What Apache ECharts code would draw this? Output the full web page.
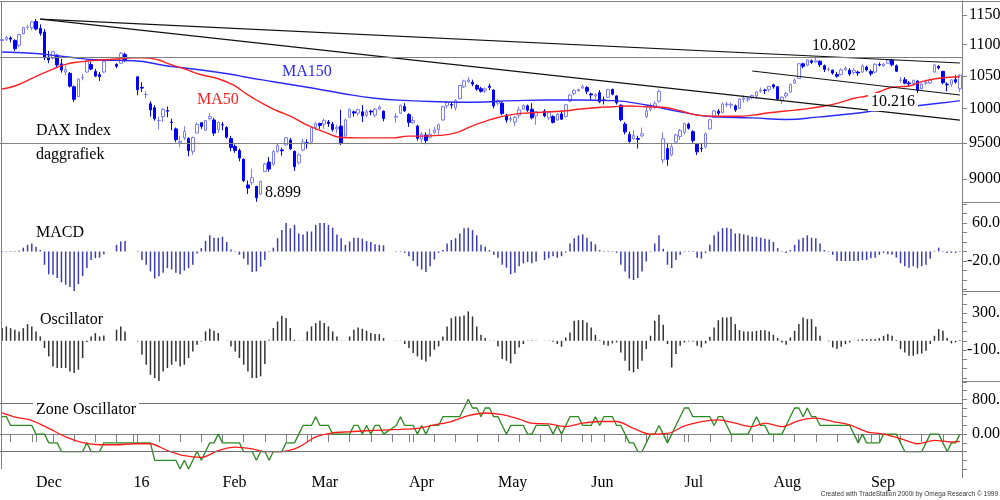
<!DOCTYPE html>
<html>
<head>
<meta charset="utf-8">
<title>DAX Index daggrafiek</title>
<script src="https://cdn.jsdelivr.net/npm/echarts@6.0.0/dist/echarts.min.js"></script>
<style>
  html, body { margin: 0; padding: 0; background: #fff; }
  #main { width: 1000px; height: 500px; }
</style>
</head>
<body>
<div id="main"></div>
<script>
// trading days (weekdays) shown on the chart
var startDate = '2015-11-19', endDate = '2016-09-30';
var monthLabels = ['16', 'Feb', 'Mar', 'Apr', 'May', 'Jun', 'Jul', 'Aug', 'Sep', 'Oct', 'Nov', 'Dec'];

// right hand scale labels
var priceTicks = [9000, 9500, 10000, 10500, 11000, 11500];
var macdTicks = [-80, -60, -40, -20, 0, 20, 40, 60, 80, 100];
var macdLabels = [60], macdNegLabels = [-20];
var oscTicks = [-400, -300, -200, -100, 0, 100, 200, 300, 400, 500];
var oscLabels = [300], oscNegLabels = [-100];
var zoneLabels = [800, 0];

// horizontal levels
var priceLevels = [10802, 9500];
var zoneLevels = [700, -400];

// daily candles [open, close, low, high], G = holiday
var G = ['-', '-', '-', '-'];
var candles = [
  [11070,11085,11020,11130],[11090,11119,11060,11150],[11110,11092,11040,11140],[11070,10934,10900,11090],
  [10990,11170,10960,11180],[11180,11285,11170,11300],[11290,11293,11250,11330],[11280,11382,11240,11400],
  [11390,11261,11240,11430],[11270,11190,11150,11340],[11210,10789,10750,11260],[10800,10752,10700,10900],
  [10780,10887,10760,10900],[10830,10673,10640,10840],[10690,10592,10550,10770],[10560,10598,10510,10660],
  [10540,10340,10320,10560],[10330,10139,10100,10350],[10180,10450,10170,10460],[10470,10470,10430,10530],
  [10560,10738,10550,10760],[10680,10608,10590,10720],[10570,10497,10480,10610],[10520,10488,10420,10560],
  [10560,10727,10540,10740],G,G,[10680,10653,10620,10700],
  [10700,10860,10690,10880],[10840,10743,10720,10870],G,G,
  [10485,10283,10200,10490],[10320,10310,10250,10400],[10210,10214,10150,10260],[10070,9979,9880,10110],
  [10010,9849,9820,10050],[9820,9825,9690,9880],[9880,9985,9800,10010],[9970,9960,9870,10030],
  [9800,9794,9680,9850],[9700,9545,9510,9720],[9500,9521,9440,9600],[9570,9664,9540,9740],
  [9560,9391,9310,9580],[9380,9574,9330,9590],[9640,9764,9640,9790],[9790,9736,9700,9800],
  [9680,9822,9670,9830],[9850,9880,9820,9930],[9830,9639,9600,9860],[9690,9798,9640,9810],
  [9760,9757,9680,9800],[9720,9581,9560,9740],[9560,9434,9380,9600],[9450,9393,9360,9480],
  [9390,9286,9240,9420],[9270,8979,8960,9280],[8920,8879,8800,8980],[8950,9017,8920,9140],
  [8900,8752,8699,8910],[8800,8967,8790,8980],[9100,9206,9100,9220],[9230,9135,9100,9300],
  [9200,9377,9180,9400],[9380,9463,9360,9490],[9400,9388,9320,9430],[9470,9573,9460,9580],
  [9540,9416,9400,9570],[9380,9167,9110,9390],[9220,9331,9200,9350],[9400,9513,9380,9560],
  [9500,9495,9420,9550],[9510,9717,9480,9730],[9720,9776,9680,9800],[9780,9751,9700,9790],
  [9770,9824,9700,9850],[9800,9778,9730,9830],[9770,9692,9660,9800],[9700,9723,9640,9760],
  [9740,9498,9470,9980],[9600,9831,9580,9850],[9870,9990,9860,10000],[9950,9933,9880,9970],
  [9930,9983,9890,10000],[9950,9892,9800,10050],[9900,9950,9870,9990],[9960,9948,9900,9980],
  [9900,9990,9870,10010],[9990,10022,9980,10050],[9960,9851,9810,9970],G,
  G,[9870,9887,9790,9930],[9930,10046,9920,10060],[10030,9966,9950,10080],
  [9910,9795,9730,9930],[9790,9822,9770,9880],[9740,9564,9530,9760],[9550,9624,9500,9650],
  [9610,9531,9480,9650],[9580,9622,9560,9700],[9650,9682,9620,9730],[9690,9761,9620,9780],
  [9830,10027,9820,10040],[10040,10094,10000,10110],[10060,10051,10000,10100],[10010,10120,9970,10140],
  [10150,10350,10140,10360],[10330,10421,10310,10440],[10410,10435,10390,10480],[10400,10373,10340,10440],
  [10350,10294,10270,10370],[10300,10260,10240,10330],[10270,10299,10230,10320],[10340,10321,10280,10380],
  [10280,10039,10000,10290],[10080,10123,10050,10140],[10080,9926,9900,10100],[9900,9829,9790,9920],
  [9840,9851,9800,9890],[9800,9870,9740,9890],[9900,9980,9860,10030],[9990,10045,9980,10060],
  [10040,9975,9950,10060],[9990,9862,9840,10080],[9890,9952,9760,9960],G,
  [9960,9891,9870,9990],[9860,9943,9830,9960],[9880,9795,9780,9900],[9830,9916,9820,9930],
  [9920,9842,9830,9960],[9880,10057,9870,10060],[10110,10205,10100,10220],[10230,10272,10200,10300],
  [10270,10287,10250,10300],[10310,10333,10300,10360],[10320,10263,10220,10340],[10220,10205,10130,10240],
  [10190,10208,10140,10230],[10240,10103,10080,10280],[10130,10121,10060,10180],[10170,10287,10160,10300],
  [10290,10217,10200,10300],[10190,10088,10060,10200],[10050,9834,9810,10060],[9770,9657,9620,9800],
  [9620,9520,9500,9660],[9560,9606,9540,9680],[9560,9550,9420,9600],[9600,9631,9580,9720],
  [9880,9962,9860,10020],[9990,10015,9960,10080],[10030,10071,9990,10110],[10110,10257,10090,10290],
  [9260,9557,9214,9650],[9420,9268,9180,9500],[9330,9448,9310,9480],[9510,9612,9490,9630],
  [9590,9680,9540,9700],[9650,9776,9620,9790],[9770,9709,9690,9790],[9660,9532,9500,9680],
  [9480,9373,9330,9500],[9420,9418,9370,9500],[9440,9629,9420,9650],[9700,9833,9690,9850],
  [9870,9964,9860,9980],[9960,9930,9900,9990],[9940,10068,9930,10090],[10060,10066,10020,10100],
  [10050,10063,10000,10090],[10040,9981,9950,10060],[10000,10142,9990,10150],[10140,10157,10090,10200],
  [10130,10147,10100,10170],[10160,10199,10140,10210],[10190,10248,10150,10260],[10260,10275,10240,10320],
  [10280,10274,10220,10300],[10290,10337,10250,10340],[10360,10330,10300,10380],[10330,10144,10120,10340],
  [10120,10171,10070,10180],[10190,10228,10160,10250],[10250,10367,10240,10380],[10390,10432,10380,10460],
  [10460,10692,10450,10700],[10690,10651,10620,10710],[10670,10753,10650,10760],[10740,10713,10690,10760],
  [10720,10740,10710,10802],[10730,10677,10640,10750],[10660,10603,10560,10680],[10600,10603,10570,10640],
  [10590,10544,10520,10600],[10520,10495,10470,10560],[10520,10593,10510,10620],[10600,10623,10580,10650],
  [10590,10530,10500,10620],[10550,10588,10520,10630],[10560,10544,10500,10580],[10560,10657,10550,10680],
  [10640,10593,10570,10660],[10570,10534,10500,10600],[10560,10684,10540,10700],[10680,10672,10650,10710],
  [10660,10688,10640,10700],[10700,10752,10690,10770],[10750,10675,10650,10770],[10660,10573,10560,10680],
  [10430,10432,10390,10480],[10440,10386,10370,10480],[10390,10378,10330,10420],[10380,10431,10340,10440],
  [10420,10276,10216,10430],[10300,10374,10290,10390],[10390,10393,10360,10440],[10390,10436,10370,10460],
  [10560,10674,10550,10680],[10650,10626,10600,10670],[10570,10394,10370,10580],[10370,10361,10260,10400],
  [10370,10438,10330,10450],[10440,10405,10380,10510],[10300,10511,10250,10530]
];

// moving averages, [day index, value]
var ma50 = [[0,10296],[3,10342],[7,10462],[11,10577],[15,10683],[19,10725],[23,10752],[27,10768],[31,10789],
  [33,10789],[37,10752],[39,10697],[43,10611],[47,10518],[51,10455],[55,10342],[57,10250],[60,10128],
  [64,9990],[68,9886],[72,9754],[76,9657],[80,9577],[84,9571],[88,9571],[92,9571],[96,9596],[99,9596],
  [103,9606],[107,9643],[111,9745],[114,9810],[117,9867],[121,9916],[125,9936],[129,9951],[133,9966],
  [136,9988],[140,10012],[144,10026],[148,10037],[152,10026],[156,10018],[160,9966],[164,9901],[168,9886],
  [174,9886],[177,9901],[181,9936],[185,9962],[189,9988],[193,10026],[197,10078],[201,10154],[204,10189],
  [207,10254],[210,10322],[214,10343],[217,10409],[221,10462],[226,10487]];
var ma150 = [[0,10881],[7,10861],[15,10805],[23,10751],[31,10741],[39,10656],[47,10593],[55,10514],[57,10487],
  [64,10409],[72,10322],[80,10231],[88,10154],[96,10118],[103,10102],[111,10093],[121,10118],[129,10128],
  [136,10128],[144,10118],[152,10052],[160,9951],[168,9876],[177,9861],[185,9838],[193,9876],[201,9926],
  [207,9977],[215,10037],[221,10078],[226,10118]];

// trend lines, [day index, price] end points
var trendLines = [
  [[9, 11430], [226, 10704]],
  [[9, 11430], [226, 9829]],
  [[177, 10577], [226, 10204]]
];

var macd = [
  1,1,1,1,2,8,14,17,10,3,
  -28,-48,-49,-56,-65,-70,-75,-85,-69,-52,
  -35,-18,-14,-13,-6,'-','-',14,21,22,
  '-','-',-1,-18,-28,-42,-57,-52,-45,-35,
  -38,-45,-48,-40,-35,-28,-4,7,22,34,
  29,29,31,20,4,-1,-7,-15,-28,-43,
  -42,-32,-18,-1,8,28,45,60,49,56,
  38,36,42,42,56,60,60,56,50,36,
  28,14,21,29,29,27,22,20,15,14,
  13,'-','-',1,-1,-3,-10,-20,-31,-38,
  -43,-31,-17,-3,3,17,24,28,38,49,
  50,45,34,14,10,3,-7,-13,-28,-34,
  -48,-45,-31,-25,-22,-25,-21,'-',-18,-14,
  -10,-13,-10,-2,17,28,34,36,29,21,
  15,3,1,1,1,-3,-28,-42,-57,-60,
  -56,-42,-21,-1,17,34,6,-28,-35,-18,
  -7,-1,1,-1,-13,-15,-3,14,34,42,
  49,50,48,38,38,36,34,31,31,29,
  27,25,20,7,-1,-3,3,14,25,29,
  34,29,28,17,3,-1,-7,-20,-20,-20,
  -20,-20,-20,-18,-18,-14,-13,-7,-3,-6,
  -7,-13,-25,-31,-34,-31,-35,-31,-28,-15,
  -1,8,1,-3,-3,-3,-1
];

var osc = [
  137,155,137,119,101,137,180,155,101,47,
  -79,-169,-277,-295,-295,-295,-331,-349,-313,-187,
  -14,47,83,47,58,'-','-',119,155,101,
  '-','-',-7,-151,-259,-367,-403,-439,-331,-295,
  -259,-223,-277,-259,-187,-115,-43,-7,101,130,
  108,83,0,-3,-61,-115,-187,-259,-331,-403,
  -403,-385,-250,11,137,209,270,245,137,11,
  3,-3,101,155,191,216,191,155,101,47,
  3,-3,47,119,144,130,108,83,72,72,
  29,'-','-',3,-3,-36,-79,-133,-169,-205,
  -223,-169,-97,-61,47,155,245,263,263,274,
  317,263,155,65,29,3,-3,-61,-198,-216,
  -245,-144,-72,-36,3,5,3,'-',2,-3,
  -10,-36,-65,36,90,216,223,223,198,144,
  65,7,-43,-54,-29,-18,-126,-216,-324,-342,
  -306,-216,-90,54,216,281,173,-36,-288,-144,
  -54,-18,-7,-7,-54,-72,-29,43,144,223,
  252,252,259,180,115,101,101,101,108,115,
  115,101,65,29,-18,-43,36,108,180,252,
  234,234,151,54,0,-7,-72,-90,-65,-36,
  -18,3,11,18,18,18,18,29,54,72,
  54,7,-90,-126,-162,-162,-144,-137,-108,-36,
  54,126,108,29,-29,-18,7
];

var zone = [
  400,400,200,200,200,200,200,200,0,0,
  0,-200,-200,-200,-400,-400,-400,-400,-400,-400,
  -200,-400,-400,-400,-200,'-','-',-200,-200,-200,
  '-','-',-200,-200,-200,-200,-600,-600,-600,-600,
  -600,-600,-800,-600,-800,-600,-400,-600,-400,-200,
  -200,0,-200,-200,-200,-200,-200,-400,-400,-400,
  -600,-400,-400,-600,-400,-400,-400,-200,-200,-200,
  0,200,200,200,400,200,200,200,0,0,
  0,0,0,200,200,0,200,0,200,200,
  0,'-','-',200,400,200,200,200,0,200,
  0,200,200,200,400,400,400,400,400,600,
  800,600,600,400,600,600,400,400,200,0,
  200,200,200,200,0,0,200,'-',200,200,
  0,200,0,200,400,400,400,200,200,200,
  400,200,400,400,400,200,200,0,-200,-200,
  -400,-400,-200,0,0,200,0,-200,0,200,
  400,600,600,400,400,400,400,400,200,400,
  400,200,0,0,0,0,0,200,400,200,
  200,0,0,0,0,200,400,600,600,400,
  600,400,400,200,200,200,200,200,200,200,
  200,0,-200,0,-200,-200,-200,-200,0,0,
  0,0,-200,-400,-400,-400,-400,-400,-200,0,
  0,0,-200,-400,-200,-200,0
];

// smoothed zone line, [day index, value]
var zoneAvg = [[0,486],[3,392],[7,313],[11,134],[15,-63],[19,-196],[23,-243],[27,-243],[31,-220],[35,-220],
  [39,-376],[43,-494],[47,-533],[51,-376],[55,-298],[59,-337],[62,-400],[66,-400],[70,-298],[74,-63],
  [78,31],[82,55],[86,78],[90,94],[94,110],[98,134],[102,212],[106,290],[110,423],[114,486],[118,447],
  [122,345],[125,251],[129,235],[133,172],[137,251],[141,290],[145,290],[149,134],[153,0],[157,16],
  [161,188],[165,290],[169,329],[173,251],[177,172],[180,251],[184,172],[188,313],[192,368],[196,290],
  [200,212],[204,55],[208,0],[212,-102],[216,-220],[220,-141],[224,-180],[226,-165]];

// ---- build the weekday axis ----
var dates = [];
var d = new Date(startDate + 'T00:00:00Z'), last = new Date(endDate + 'T00:00:00Z');
while (d <= last) {
  var wd = d.getUTCDay();
  if (wd > 0 && wd < 6) dates.push(d.toISOString().slice(0, 10));
  d.setUTCDate(d.getUTCDate() + 1);
}
function monthStart(i) { return i > 0 && dates[i].slice(5, 7) !== dates[i - 1].slice(5, 7); }
function monday(i) { return new Date(dates[i] + 'T00:00:00Z').getUTCDay() === 1; }

var serif = '"Liberation Serif", "Times New Roman", serif';
var gray = '#808080';

function xAxis(idx, show) {
  return {
    type: 'category', gridIndex: idx, data: dates, boundaryGap: true,
    axisLine: { show: show, lineStyle: { color: gray } },
    axisTick: { show: show, alignWithLabel: true, length: 8, lineStyle: { color: gray },
      interval: function (i) { return monday(i) || monthStart(i); } },
    axisLabel: { show: show, interval: function (i) { return monthStart(i); },
      formatter: function (v) { return monthLabels[+v.slice(5, 7) - 1]; },
      align: 'left', margin: 6, fontFamily: serif, fontSize: 16, color: '#000' },
    splitLine: { show: false }
  };
}

function fmt2(v) { return Number(v).toFixed(2); }

function yAxis(idx, min, max, ticks, labels, margin, showLine) {
  return {
    type: 'value', gridIndex: idx, position: 'right', min: min, max: max,
    axisLine: { show: showLine, lineStyle: { color: gray } },
    axisTick: { show: showLine, customValues: ticks, length: 5, lineStyle: { color: gray } },
    axisLabel: { customValues: labels, formatter: fmt2, margin: margin,
      fontFamily: serif, fontSize: 16, color: '#000' },
    splitLine: { show: false }
  };
}

function text(x, y, s, color, bg) {
  var st = { text: s, fill: color || '#000', font: '16px ' + serif, verticalAlign: 'middle' };
  if (bg) { st.backgroundColor = '#fff'; st.padding = [1, 3]; }
  return { type: 'text', x: x, y: y, z: 100, style: st };
}
function hline(x1, x2, y) {
  return { type: 'line', z: 100, shape: { x1: x1, y1: y, x2: x2, y2: y }, style: { stroke: gray, lineWidth: 1 } };
}

var trendSeries = trendLines.map(function (pts) {
  return { type: 'line', xAxisIndex: 0, yAxisIndex: 0, data: pts, symbol: 'none', z: 4,
    lineStyle: { color: '#111', width: 1.2 }, silent: true };
});

var option = {
  animation: false,
  backgroundColor: '#fff',
  grid: [
    { left: 0, right: 38, top: 1, height: 201, outerBoundsMode: 'none', containLabel: false },
    { left: 0, right: 38, top: 202, height: 89, outerBoundsMode: 'none', containLabel: false },
    { left: 0, right: 38, top: 291, height: 90, outerBoundsMode: 'none', containLabel: false },
    { left: 0, right: 38, top: 381, height: 88, outerBoundsMode: 'none', containLabel: false }
  ],
  xAxis: [xAxis(0, false), xAxis(1, false), xAxis(2, false), xAxis(3, true)],
  yAxis: [
    { type: 'log', logBase: 10, gridIndex: 0, position: 'right', min: 8696, max: 11743,
      axisLine: { show: true, lineStyle: { color: gray } },
      axisTick: { show: true, customValues: priceTicks, length: 5, lineStyle: { color: gray } },
      axisLabel: { customValues: priceTicks, margin: 7, formatter: function (v) { return String(Math.round(v)); },
        fontFamily: serif, fontSize: 16, color: '#000' },
      minorTick: { show: false }, splitLine: { show: false } },
    yAxis(1, -83.2, 104.2, macdTicks, macdLabels, 10, true),
    yAxis(1, -83.2, 104.2, [], macdNegLabels, 5, false),
    yAxis(2, -435, 538, oscTicks, oscLabels, 10, true),
    yAxis(2, -435, 538, [], oscNegLabels, 5, false),
    { type: 'value', gridIndex: 3, position: 'right', min: -800, max: 1220, interval: 200,
      axisLine: { show: true, lineStyle: { color: gray } },
      axisTick: { show: true, length: 5, lineStyle: { color: gray } },
      axisLabel: { margin: 10, fontFamily: serif, fontSize: 16, color: '#000',
        formatter: function (v) { return zoneLabels.indexOf(v) >= 0 ? fmt2(v) : ''; } },
      splitLine: { show: false } }
  ],
  series: [
    { type: 'candlestick', xAxisIndex: 0, yAxisIndex: 0, data: candles, barWidth: 3,
      itemStyle: { color: '#ffffff', color0: '#0000ff', borderColor: '#7c7cff', borderColor0: '#0000ff', borderWidth: 1 },
      markLine: { silent: true, symbol: ['none', 'none'], label: { show: false },
        lineStyle: { color: gray, width: 1, type: 'solid' },
        data: priceLevels.map(function (v) { return { yAxis: v }; }) } },
    { type: 'line', xAxisIndex: 0, yAxisIndex: 0, data: ma150, smooth: true, symbol: 'none', z: 3,
      lineStyle: { color: '#2a2aff', width: 1.4 } },
    { type: 'line', xAxisIndex: 0, yAxisIndex: 0, data: ma50, smooth: true, symbol: 'none', z: 3,
      lineStyle: { color: '#ff2020', width: 1.4 } }
  ].concat(trendSeries).concat([
    { type: 'bar', xAxisIndex: 1, yAxisIndex: 1, data: macd, barWidth: 1.5,
      itemStyle: { color: '#3c3cb4' } },
    { type: 'bar', xAxisIndex: 2, yAxisIndex: 3, data: osc, barWidth: 1.5,
      itemStyle: { color: '#333333' } },
    { type: 'line', xAxisIndex: 3, yAxisIndex: 5, data: zone, symbol: 'none', connectNulls: true, z: 3,
      lineStyle: { color: '#2a8a22', width: 1.3 },
      markLine: { silent: true, symbol: ['none', 'none'], label: { show: false },
        lineStyle: { color: '#707070', width: 1, type: 'solid' },
        data: zoneLevels.map(function (v) { return { yAxis: v }; }) } },
    { type: 'line', xAxisIndex: 3, yAxisIndex: 5, data: zoneAvg, smooth: 0.3, symbol: 'none', z: 4,
      lineStyle: { color: '#ff1a1a', width: 1.3 } }
  ]),
  graphic: [
    hline(0, 1000, 1.5),
    { type: 'line', z: 100, shape: { x1: 1.5, y1: 1, x2: 1.5, y2: 469 }, style: { stroke: gray, lineWidth: 1 } },
    { type: 'line', z: 100, shape: { x1: 962.5, y1: 469, x2: 962.5, y2: 478 }, style: { stroke: gray, lineWidth: 1 } },
    hline(962, 1000, 202.5), hline(962, 1000, 291.5), hline(962, 1000, 381.5),
    text(36, 131, 'DAX Index'),
    text(36, 155, 'daggrafiek'),
    text(282, 72, 'MA150', '#2a2aff'),
    text(197, 100, 'MA50', '#ff2020'),
    text(265, 193, '8.899'),
    text(812, 46, '10.802'),
    text(868, 102, '10.216', '#000', true),
    text(36, 233, 'MACD'),
    text(40, 320, 'Oscillator'),
    text(33, 410, 'Zone Oscillator', '#000', true),
    { type: 'text', z: 100, x: 998, y: 494,
      style: { text: 'Created with TradeStation 2000i by Omega Research \u00a9 1999', fill: '#333',
        font: '6.5px "Liberation Sans", Arial, sans-serif', align: 'right', verticalAlign: 'middle' } }
  ]
};

var chart = echarts.init(document.getElementById('main'));
chart.setOption(option);
</script>
</body>
</html>
